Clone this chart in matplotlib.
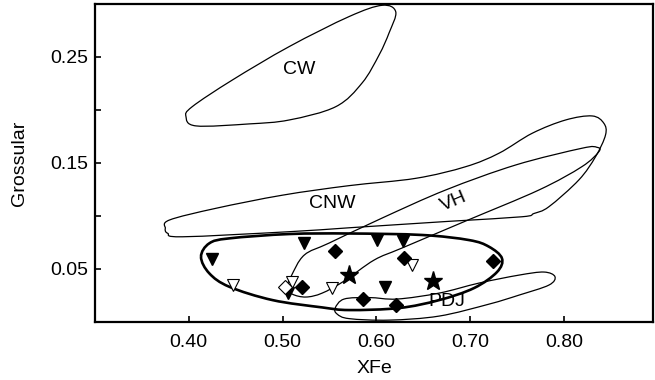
import matplotlib
matplotlib.use("Agg")
import matplotlib.pyplot as plt
import numpy as np
from matplotlib.path import Path
from matplotlib.patches import PathPatch

plt.rcParams.update({
    "font.family": ["Liberation Sans", "DejaVu Sans"],
    "font.size": 14,
})

# Sample points (XFe, Grossular)
tri_filled_x = [0.4245, 0.523, 0.601, 0.628, 0.506, 0.609]
tri_filled_y = [0.0589, 0.074, 0.077, 0.076, 0.027, 0.033]
tri_open_x = [0.4468, 0.510, 0.5526, 0.6377]
tri_open_y = [0.0346, 0.0377, 0.032, 0.054]
dia_filled_x = [0.5557, 0.521, 0.6295, 0.724, 0.586, 0.621]
dia_filled_y = [0.067, 0.033, 0.0598, 0.057, 0.0214, 0.0157]
dia_open_x = [0.503]
dia_open_y = [0.033]
star_x = [0.571, 0.660]
star_y = [0.044, 0.0387]

# Field outlines (vertices)
cw_x = [0.3972, 0.4079, 0.4646, 0.5071, 0.5568, 0.5848, 0.6029, 0.6135,
        0.6206, 0.6061, 0.5710, 0.5071, 0.4465, 0.4039]
cw_y = [0.1937, 0.1849, 0.1868, 0.1905, 0.2031, 0.2255, 0.2520, 0.2728,
        0.2926, 0.2988, 0.2882, 0.2598, 0.2282, 0.2031]

cnw_x = [0.3752, 0.3795, 0.4291, 0.5000, 0.5710, 0.6419, 0.6951, 0.7305,
         0.7660, 0.8015, 0.8298, 0.8422, 0.8440, 0.8334, 0.8156, 0.7837,
         0.7678, 0.7550, 0.6774, 0.5710, 0.5071, 0.3936, 0.3777]
cnw_y = [0.0882, 0.0960, 0.1071, 0.1195, 0.1285, 0.1354, 0.1464, 0.1591,
         0.1780, 0.1905, 0.1943, 0.1874, 0.1764, 0.1559, 0.1339, 0.1086,
         0.1022, 0.0991, 0.0948, 0.0887, 0.0850, 0.0802, 0.0835]

vh_x = [0.5050, 0.5093, 0.5231, 0.5497, 0.6061, 0.6738, 0.7483, 0.8188,
        0.8348, 0.8369, 0.8188, 0.7731, 0.6951, 0.6273, 0.5975, 0.5656,
        0.5422, 0.5249, 0.5103]
vh_y = [0.0327, 0.0431, 0.0629, 0.0743, 0.0979, 0.1244, 0.1480, 0.1638,
        0.1647, 0.1606, 0.1464, 0.1244, 0.0951, 0.0696, 0.0582, 0.0384,
        0.0270, 0.0233, 0.0261]

pdj_x = [0.5561, 0.5656, 0.5922, 0.6220, 0.6667, 0.7093, 0.7518, 0.7784,
         0.7901, 0.7837, 0.7518, 0.7199, 0.6667, 0.6135, 0.5710, 0.5582]
pdj_y = [0.0129, 0.0214, 0.0228, 0.0214, 0.0270, 0.0365, 0.0440, 0.0469,
         0.0426, 0.0346, 0.0251, 0.0166, 0.0053, 0.0015, 0.0029, 0.0072]

main_x = [0.4132, 0.4220, 0.4433, 0.5071, 0.5710, 0.6486, 0.6986, 0.7199,
          0.7337, 0.7284, 0.7040, 0.6668, 0.6241, 0.5710, 0.5422, 0.4894,
          0.4433, 0.4220]
main_y = [0.0613, 0.0740, 0.0787, 0.0828, 0.0833, 0.0819, 0.0771, 0.0708,
          0.0598, 0.0469, 0.0318, 0.0204, 0.0129, 0.0110, 0.0135, 0.0204,
          0.0330, 0.0457]

labels = [("CW", 0.5178, 0.2378, 0), ("CNW", 0.5532, 0.1118, 0),
          ("VH", 0.6827, 0.1133, 23), ("PDJ", 0.6745, 0.0188, 0)]


def smooth_closed(xs, ys):
    # closed Catmull-Rom outline as cubic Bezier path
    pts = np.column_stack([xs, ys])
    n = len(pts)
    verts = [pts[0]]
    codes = [Path.MOVETO]
    for i in range(n):
        p0, p1 = pts[i - 1], pts[i]
        p2, p3 = pts[(i + 1) % n], pts[(i + 2) % n]
        verts += [p1 + (p2 - p0) / 6, p2 - (p3 - p1) / 6, p2]
        codes += [Path.CURVE4] * 3
    return Path(verts, codes)


fig = plt.figure(figsize=(6.55, 3.8), dpi=100)
ax = fig.add_axes([0.1446, 0.1534, 0.853, 0.836])

for xs, ys in [(cw_x, cw_y), (cnw_x, cnw_y), (vh_x, vh_y), (pdj_x, pdj_y)]:
    ax.add_patch(PathPatch(smooth_closed(xs, ys), facecolor="none",
                           edgecolor="black", lw=0.9))
ax.add_patch(PathPatch(smooth_closed(main_x, main_y), facecolor="none",
                       edgecolor="black", lw=1.9))

ax.plot(tri_filled_x, tri_filled_y, "v", color="black", ms=8, ls="none")
ax.plot(tri_open_x, tri_open_y, "v", mfc="white", mec="black", mew=0.8,
        ms=8, ls="none")
ax.plot(dia_filled_x, dia_filled_y, "D", color="black", ms=7, ls="none")
ax.plot(dia_open_x, dia_open_y, "D", mfc="white", mec="black", mew=0.8,
        ms=7, ls="none")
ax.plot(star_x, star_y, "*", color="black", ms=14, ls="none")

for txt, x, y, rot in labels:
    ax.text(x, y, txt, ha="center", va="center", rotation=rot, fontsize=14)

ax.set_xlim(0.30, 0.895)
ax.set_ylim(0.0, 0.30)
ax.set_xticks([0.40, 0.50, 0.60, 0.70, 0.80])
ax.set_xticklabels(["0.40", "0.50", "0.60", "0.70", "0.80"])
ax.set_yticks([0.05, 0.15, 0.25])
ax.set_yticklabels(["0.05", "0.15", "0.25"])
ax.set_yticks([0.10, 0.20], minor=True)
ax.tick_params(which="both", direction="in", length=4, width=1.2)
ax.tick_params(axis="x", pad=9)
ax.tick_params(axis="y", pad=5)
for s in ax.spines.values():
    s.set_linewidth(1.6)

ax.set_xlabel("XFe", labelpad=6)
ax.set_ylabel("Grossular", labelpad=16)

fig.savefig("out.png", dpi=100)
